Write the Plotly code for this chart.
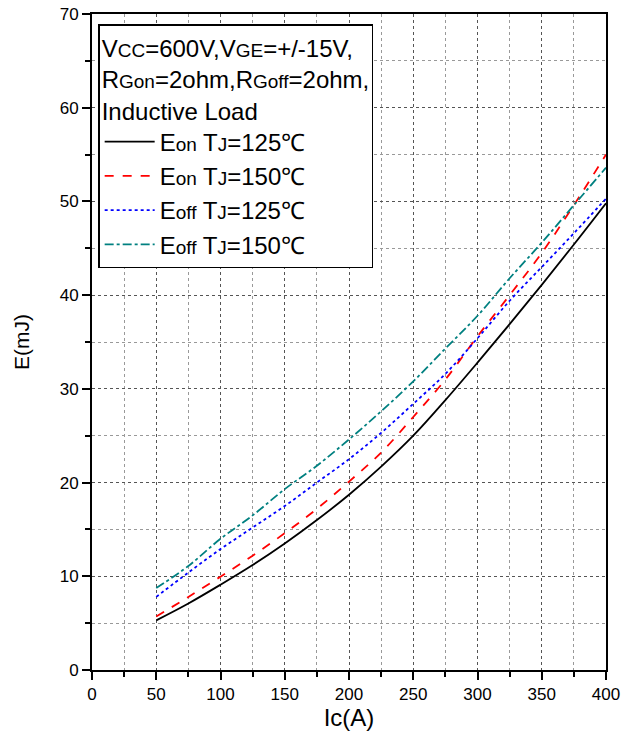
import plotly.graph_objects as go

ic = [50, 75, 100, 125, 150, 175, 200, 225, 250, 275, 300, 325, 350, 375, 400]
eon_125 = [5.3, 7.1, 9.1, 11.2, 13.5, 16.0, 18.7, 21.7, 25.0, 28.8, 32.8, 36.9, 41.1, 45.4, 49.8]
eon_150 = [5.7, 7.8, 9.96, 12.2, 14.6, 17.2, 20.1, 23.2, 27.0, 31.0, 35.6, 40.0, 44.5, 49.6, 55.0]
eoff_125 = [7.8, 10.4, 12.9, 15.2, 17.5, 20.0, 22.5, 25.3, 28.4, 31.6, 35.4, 39.4, 43.0, 46.6, 50.3]
eoff_150 = [8.75, 11.1, 14.0, 16.5, 19.3, 21.8, 24.6, 27.6, 30.8, 34.3, 37.8, 41.8, 45.6, 49.6, 53.6]

FONT = "Liberation Sans"

def s(t, size=19):
    return f"<span style='font-size:{size}px'>{t}</span>"

names = [
    f"E{s('on')} T{s('J')}=125℃",
    f"E{s('on')} T{s('J')}=150℃",
    f"E{s('off')} T{s('J')}=125℃",
    f"E{s('off')} T{s('J')}=150℃",
]
series = [eon_125, eon_150, eoff_125, eoff_150]
colors = ["#000000", "#ff0000", "#0000ff", "#008080"]
dashes = ["solid", "dash", "dot", "dashdot"]

fig = go.Figure()
for n, y, c, d in zip(names, series, colors, dashes):
    fig.add_trace(go.Scatter(x=ic, y=y, mode="lines", name=n,
                             line=dict(color=c, dash=d, width=1.8, shape="spline")))

header = (f"V{s('CC')}=600V,V{s('GE')}=+/-15V,<br>"
          f"R{s('Gon')}=2ohm,R{s('Goff')}=2ohm,<br>Inductive Load")

axis_common = dict(
    showline=True, linecolor="black", linewidth=2, mirror=True,
    ticks="outside", ticklen=8, tickwidth=2, tickcolor="black",
    showgrid=True, gridcolor="#555555", griddash="dot", gridwidth=1,
    zeroline=False, automargin=False, ticklabeloverflow="allow",
    tickfont=dict(family=FONT, size=17, color="black"),
)

fig.update_layout(
    width=624, height=738,
    margin=dict(l=92, r=18, t=14, b=68),
    paper_bgcolor="white", plot_bgcolor="white",
    font=dict(family=FONT, color="black"),
    xaxis=dict(range=[0, 400], dtick=50,
               minor=dict(dtick=25, ticks="outside", ticklen=5, tickwidth=2, tickcolor="black",
                          showgrid=True, gridcolor="#999999", griddash="dot", gridwidth=1),
               title=dict(text="Ic(A)", font=dict(family=FONT, size=24), standoff=0),
               **axis_common),
    yaxis=dict(range=[0, 70], dtick=10,
               minor=dict(dtick=5, ticks="outside", ticklen=5, tickwidth=2, tickcolor="black",
                          showgrid=True, gridcolor="#999999", griddash="dot", gridwidth=1),
               title=dict(text="E(mJ)", font=dict(family=FONT, size=21), standoff=24),
               **axis_common),
    legend=dict(
        title=dict(text=header, font=dict(family=FONT, size=24)),
        x=0.012, y=0.984, xanchor="left", yanchor="top",
        bgcolor="white", bordercolor="black", borderwidth=1.5,
        font=dict(family=FONT, size=24, color="black"),
        itemwidth=50,
    ),
)

# remove the browser's default 8px body margin so the figure sits at the page origin
fig.write_html("out.html", config={"displayModeBar": False},
               post_script="document.body.style.margin='0px';")
